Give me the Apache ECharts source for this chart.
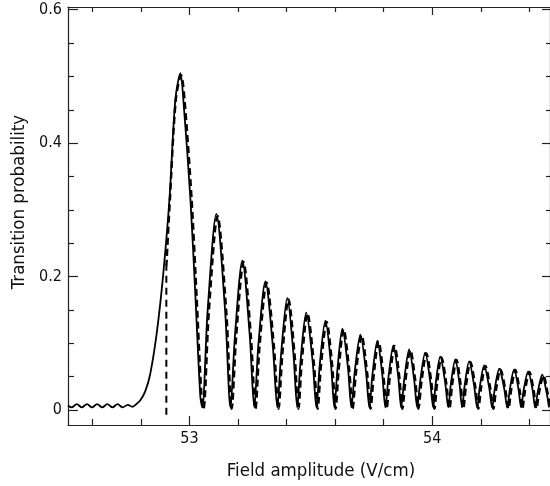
<!DOCTYPE html>
<html>
<head>
<meta charset="utf-8">
<script src="https://cdn.jsdelivr.net/npm/echarts@6/dist/echarts.min.js"></script>
<style>
html,body{margin:0;padding:0;background:#fff;}
#chart{width:550px;height:486px;}
</style>
</head>
<body>
<div id="chart"></div>
<script>
// ---- data ----
const xMin = 52.5, xMax = 54.485;
const yMin = -0.0223, yMax = 0.604;
const xMajorTicks = [53, 54];
const xMinorTicks = [52.6, 52.8, 53.2, 53.4, 53.6, 53.8, 54.2, 54.4];
const yMajorTicks = [0, 0.2, 0.4, 0.6];
const yMinorTicks = [0.05, 0.1, 0.15, 0.25, 0.3, 0.35, 0.45, 0.5, 0.55];

// solid curve (field amplitude, transition probability)
const solidX = [52.500, 52.515, 52.536, 52.557, 52.578, 52.599, 52.620, 52.641, 52.662, 52.683,
  52.704, 52.725, 52.746, 52.765, 52.785, 52.800, 52.818, 52.838, 52.866, 52.892,
  52.918, 52.942, 52.963, 52.975, 53.004, 53.025, 53.045, 53.053,
  53.075, 53.111, 53.147, 53.169, 53.188, 53.218, 53.248, 53.267,
  53.284, 53.313, 53.343, 53.362, 53.378, 53.403, 53.428, 53.444,
  53.458, 53.481, 53.507, 53.523, 53.537, 53.560, 53.583, 53.597,
  53.610, 53.630, 53.653, 53.667, 53.681, 53.704, 53.727, 53.741,
  53.754, 53.774, 53.794, 53.807, 53.820, 53.840, 53.860, 53.872,
  53.885, 53.905, 53.925, 53.938, 53.951, 53.971, 53.991, 54.004,
  54.015, 54.033, 54.053, 54.066, 54.077, 54.095, 54.112, 54.123,
  54.134, 54.152, 54.172, 54.185, 54.196, 54.214, 54.234, 54.247,
  54.258, 54.276, 54.296, 54.309, 54.320, 54.337, 54.355, 54.366,
  54.377, 54.395, 54.413, 54.424, 54.435, 54.453, 54.470, 54.481];
const solidY = [0.007, 0.004, 0.009, 0.004, 0.009, 0.004, 0.009, 0.004, 0.009, 0.004,
  0.009, 0.004, 0.008, 0.005, 0.010, 0.016, 0.028, 0.053, 0.117, 0.203,
  0.317, 0.465, 0.505, 0.465, 0.317, 0.168, 0.020, 0.004,
  0.149, 0.294, 0.149, 0.004, 0.114, 0.224, 0.114, 0.004,
  0.098, 0.193, 0.098, 0.004, 0.086, 0.168, 0.086, 0.004,
  0.075, 0.146, 0.075, 0.004, 0.069, 0.134, 0.069, 0.004,
  0.063, 0.122, 0.063, 0.004, 0.058, 0.113, 0.058, 0.004,
  0.054, 0.104, 0.054, 0.004, 0.050, 0.097, 0.050, 0.004,
  0.047, 0.091, 0.047, 0.004, 0.045, 0.086, 0.045, 0.004,
  0.042, 0.080, 0.042, 0.004, 0.040, 0.076, 0.040, 0.004,
  0.038, 0.073, 0.038, 0.004, 0.035, 0.067, 0.035, 0.004,
  0.033, 0.062, 0.033, 0.004, 0.032, 0.061, 0.032, 0.004,
  0.031, 0.058, 0.031, 0.004, 0.028, 0.053, 0.028, 0.004];

// dashed curve: vertical onset then oscillations
const dashStepX = [52.905, 52.905];
const dashStepY = [-0.007, 0.215];
const dashX = [52.905, 52.920, 52.944, 52.966, 52.980, 53.009, 53.030, 53.050, 53.058,
  53.080, 53.116, 53.152, 53.174, 53.193, 53.223, 53.253, 53.272,
  53.289, 53.318, 53.348, 53.367, 53.383, 53.408, 53.433, 53.449,
  53.463, 53.486, 53.512, 53.528, 53.542, 53.565, 53.588, 53.602,
  53.615, 53.635, 53.658, 53.672, 53.686, 53.709, 53.732, 53.746,
  53.759, 53.779, 53.799, 53.812, 53.825, 53.845, 53.865, 53.877,
  53.890, 53.910, 53.930, 53.943, 53.956, 53.976, 53.996, 54.009,
  54.020, 54.038, 54.058, 54.071, 54.082, 54.100, 54.117, 54.128,
  54.139, 54.157, 54.177, 54.190, 54.201, 54.219, 54.239, 54.252,
  54.263, 54.281, 54.301, 54.314, 54.325, 54.342, 54.360, 54.371,
  54.382, 54.400, 54.418, 54.429, 54.440, 54.458, 54.475, 54.486];
const dashY = [0.215, 0.317, 0.465, 0.502, 0.465, 0.317, 0.168, 0.020, 0.002,
  0.147, 0.291, 0.147, 0.002, 0.112, 0.222, 0.112, 0.002,
  0.096, 0.191, 0.096, 0.002, 0.084, 0.166, 0.084, 0.002,
  0.073, 0.145, 0.073, 0.002, 0.067, 0.132, 0.067, 0.002,
  0.061, 0.121, 0.061, 0.002, 0.056, 0.112, 0.056, 0.002,
  0.052, 0.103, 0.052, 0.002, 0.048, 0.096, 0.048, 0.002,
  0.045, 0.090, 0.045, 0.002, 0.043, 0.085, 0.043, 0.002,
  0.040, 0.079, 0.040, 0.002, 0.038, 0.075, 0.038, 0.002,
  0.036, 0.072, 0.036, 0.002, 0.033, 0.066, 0.033, 0.002,
  0.031, 0.061, 0.031, 0.002, 0.030, 0.060, 0.030, 0.002,
  0.029, 0.057, 0.029, 0.002, 0.026, 0.052, 0.026, 0.002];

const xName = 'Field amplitude (V/cm)';
const yName = 'Transition probability';

// ---- chart ----
const FONT = "'DejaVu Sans Condensed', 'Liberation Sans Narrow', 'DejaVu Sans', sans-serif";
const zip = (xs, ys) => xs.map((x, i) => [x, ys[i]]);
const axisCol = '#222';

function xAx(pos, ticks, len, showLine, labels) {
  return {
    type: 'value', position: pos, min: xMin, max: xMax, gridIndex: 0,
    splitLine: {show: false},
    axisLine: {show: showLine, onZero: false, lineStyle: {color: axisCol, width: 1.2}},
    axisTick: {show: true, inside: true, length: len, customValues: ticks, lineStyle: {color: axisCol, width: 1.2}},
    axisLabel: labels ? {show: true, customValues: labels, margin: 6, color: '#111', fontSize: 16, fontFamily: FONT,
      formatter: v => String(Math.round(v))} : {show: false}
  };
}
function yAx(pos, ticks, len, showLine, labels) {
  return {
    type: 'value', position: pos, min: yMin, max: yMax, gridIndex: 0,
    splitLine: {show: false},
    axisLine: {show: showLine, onZero: false, lineStyle: {color: axisCol, width: 1.2}},
    axisTick: {show: true, inside: true, length: len, customValues: ticks, lineStyle: {color: axisCol, width: 1.2}},
    axisLabel: labels ? {show: true, customValues: labels, margin: 6, color: '#111', fontSize: 16, fontFamily: FONT,
      formatter: v => (Math.abs(v) < 1e-9 ? '0' : v.toFixed(1))} : {show: false}
  };
}

const xAxes = [
  xAx('bottom', xMajorTicks, 9, true, xMajorTicks),
  xAx('bottom', xMinorTicks, 6, false, null),
  xAx('top', xMajorTicks, 8, true, null),
  xAx('top', xMinorTicks, 5, false, null)
];
Object.assign(xAxes[0], {name: xName, nameLocation: 'middle', nameGap: 37,
  nameTextStyle: {color: '#111', fontSize: 18.5, fontFamily: FONT, padding: [0, 0, 0, 24]}});

const yAxes = [
  yAx('left', yMajorTicks, 10, true, yMajorTicks),
  yAx('left', yMinorTicks, 6, false, null),
  yAx('right', yMajorTicks, 8, true, null),
  yAx('right', yMinorTicks, 4, false, null)
];
Object.assign(yAxes[0], {name: yName, nameLocation: 'middle', nameGap: 37,
  nameTextStyle: {color: '#111', fontSize: 18.5, fontFamily: FONT, padding: [0, 0, 0, 28]}});

const chart = echarts.init(document.getElementById('chart'), null, {renderer: 'canvas'});
chart.setOption({
  animation: false,
  backgroundColor: '#fff',
  grid: {left: 68, right: 0, top: 7, bottom: 58, containLabel: false},
  xAxis: xAxes,
  yAxis: yAxes,
  series: [
    {type: 'line', data: zip(solidX, solidY), smooth: 0.3, showSymbol: false, symbol: 'none',
      lineStyle: {color: '#000', width: 1.8}, z: 3},
    {type: 'line', data: zip(dashStepX, dashStepY), showSymbol: false, symbol: 'none',
      lineStyle: {color: '#000', width: 2, type: [7, 5]}, z: 4},
    {type: 'line', data: zip(dashX, dashY), smooth: 0.3, showSymbol: false, symbol: 'none',
      lineStyle: {color: '#000', width: 2.4, type: [7, 4]}, z: 4}
  ]
});
</script>
</body>
</html>
